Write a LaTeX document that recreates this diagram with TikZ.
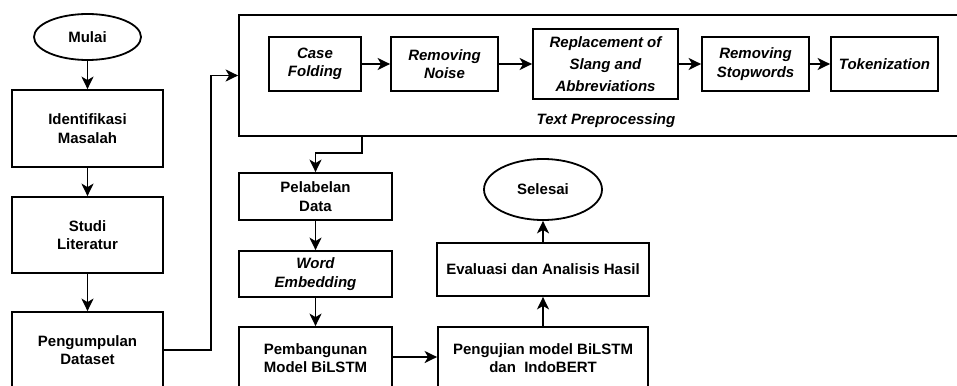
\documentclass[tikz,border=0pt]{standalone}
\usepackage{fontspec}
\setmainfont{Liberation Sans}
\usetikzlibrary{arrows.meta,shapes.geometric,calc}
\tikzset{
  x=1pt, y=-1pt,
  txt/.style={font=\fontsize{15}{18.5}\selectfont\bfseries, align=center},
  itxt/.style={font=\fontsize{15}{18.5}\selectfont\bfseries\itshape},
  box/.style={txt, draw, line width=1.8pt, rectangle, inner sep=0pt},
  oval/.style={txt, draw, line width=1.8pt, ellipse, inner sep=0pt},
  flow/.style={line width=1.8pt, -{Stealth[length=12.5pt,width=12pt,inset=3.5pt]}},
}
\begin{document}
\begin{tikzpicture}
\clip (0,0) rectangle (957,385);
\fill[white] (0,0) rectangle (957,385);

% left column
\node[oval, minimum width=107, minimum height=46] (mulai) at (87.5,37) {Mulai};
\node[box, minimum width=151, minimum height=77] (ident) at (87.5,128.5) {Identifikasi\\Masalah};
\node[box, minimum width=151, minimum height=76] (studi) at (87.5,235) {Studi\\Literatur};
\node[box, minimum width=151, minimum height=76] (kumpul) at (87.5,350) {Pengumpulan\\Dataset};

% preprocessing container
\node[draw, line width=1.8pt, minimum width=723, minimum height=121, inner sep=0pt] (tp) at (600.5,75.5) {};
\node[txt, itxt] (tplabel) at (606,121) {Text Preprocessing};

\node[box, itxt, minimum width=92, minimum height=54] (cf) at (315,64) {Case\\Folding};
\node[box, itxt, minimum width=107, minimum height=54] (rn) at (444.5,64) {Removing\\Noise};
\node[box, font=\fontsize{15}{22}\selectfont\bfseries\itshape, minimum width=145, minimum height=70] (rep) at (605.5,64) {Replacement of\\Slang and\\Abbreviations};
\node[box, itxt, minimum width=107, minimum height=54] (rs) at (755.5,64) {Removing\\Stopwords};
\node[box, itxt, minimum width=107, minimum height=54] (tok) at (884.5,64) {Tokenization};

% middle column
\node[box, minimum width=153, minimum height=47] (pel) at (315.5,196.5) {Pelabelan\\Data};
\node[box, itxt, minimum width=153, minimum height=46] (we) at (315.5,274) {Word\\Embedding};
\node[box, minimum width=153, minimum height=62] (pemb) at (315.5,358) {Pembangunan\\Model BiLSTM};

% right column
\node[box, minimum width=210, minimum height=62] (peng) at (543,358) {Pengujian model BiLSTM\\dan\ \ IndoBERT};
\node[box, minimum width=212, minimum height=53] (eval) at (543,269.5) {Evaluasi dan Analisis Hasil};
\node[oval, minimum width=118, minimum height=61] (sel) at (543,189.5) {Selesai};

% connectors
\draw[flow] (mulai) -- (ident);
\draw[flow] (ident) -- (studi);
\draw[flow] (studi) -- (kumpul);
\draw[flow] (kumpul.east) -- ++(47,0) |- (tp.west);
\draw[flow] (cf) -- (rn);
\draw[flow] (rn) -- (rep);
\draw[flow] (rep) -- (rs);
\draw[flow] (rs) -- (tok);
\draw[flow] (tp.south -| cf.east) -- ++(0,16) -| (pel.north);
\draw[flow] (pel) -- (we);
\draw[flow] (we) -- (pemb);
\draw[flow] (pemb.east |- 0,357) -- (peng.west |- 0,357);
\draw[flow] (peng) -- (eval);
\draw[flow] (eval) -- (sel);
\end{tikzpicture}
\end{document}
